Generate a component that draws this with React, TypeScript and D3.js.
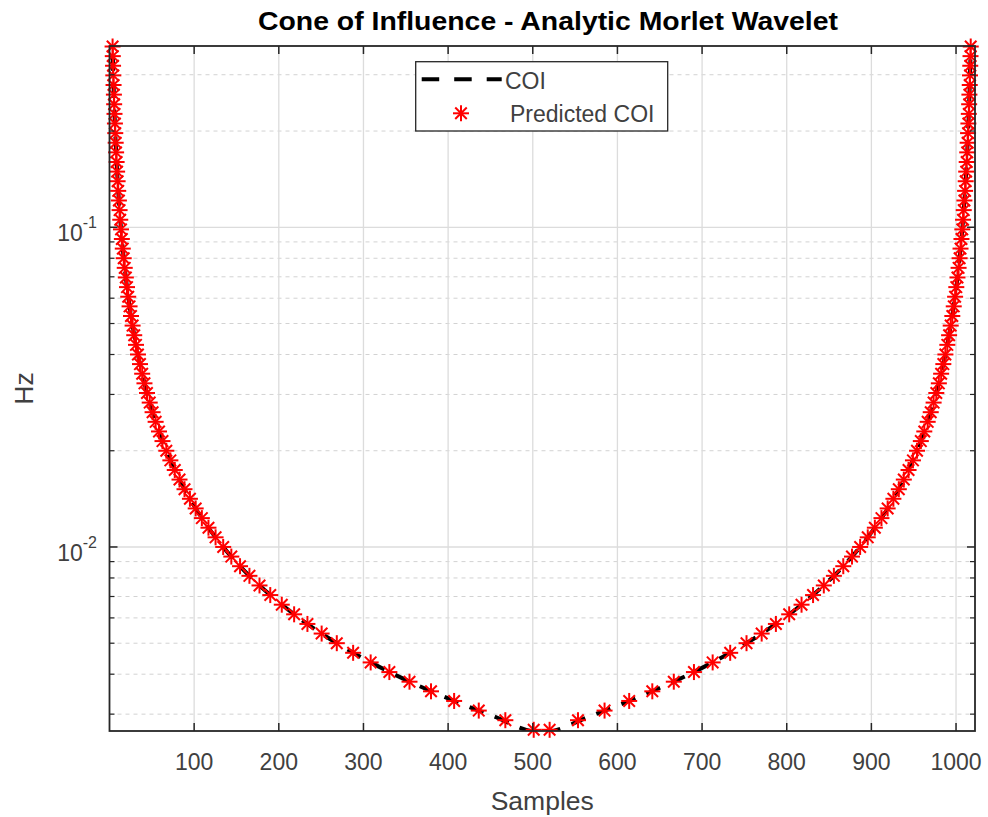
import React, { useLayoutEffect } from 'react';
import * as d3 from 'd3';

// ---------- data ----------
const xTicks = [100, 200, 300, 400, 500, 600, 700, 800, 900, 1000];
const yMajorTicks = [0.01, 0.1];
const yMajorLabels = ['-2', '-1'];
const yMinorTicks = [0.003, 0.004, 0.005, 0.006, 0.007, 0.008, 0.009,
  0.02, 0.03, 0.04, 0.05, 0.06, 0.07, 0.08, 0.09, 0.2, 0.3];

// COI line (sample, Hz)
const coiSamples = [1, 2, 3, 4, 5, 6, 8, 10, 12, 15, 20, 25, 30, 40, 50, 60, 80, 100, 125, 150, 200, 250, 300, 350, 400, 450, 510,
  511, 571, 621, 671, 721, 771, 821, 871, 896, 921, 941, 961, 971, 981, 991, 996, 1001, 1006, 1009, 1011, 1013, 1015, 1016, 1017, 1018, 1019, 1020];
const coiHz = [1.343, 0.6715, 0.4477, 0.3358, 0.2686, 0.2238, 0.1679, 0.1343, 0.1119, 0.0895, 0.0672, 0.0537, 0.0448, 0.0336, 0.0269, 0.0224, 0.0168, 0.01343, 0.01074, 0.00895, 0.00672, 0.00537, 0.00448, 0.00384, 0.00336, 0.00298, 0.00263,
  0.00263, 0.00298, 0.00336, 0.00384, 0.00448, 0.00537, 0.00672, 0.00895, 0.01074, 0.01343, 0.0168, 0.0224, 0.0269, 0.0336, 0.0448, 0.0537, 0.0672, 0.0895, 0.1119, 0.1343, 0.1679, 0.2238, 0.2686, 0.3358, 0.4477, 0.6715, 1.343];

// Predicted COI markers: frequency, left-edge sample, right-edge sample
const predHz = [
  0.002680, 0.002872, 0.003078, 0.003299, 0.003536, 0.003790, 0.004062, 0.004354, 0.004666, 0.005001,
  0.005360, 0.005745, 0.006157, 0.006599, 0.007073, 0.007580, 0.008124, 0.008707, 0.009332, 0.010002,
  0.01072, 0.01149, 0.01231, 0.01320, 0.01415, 0.01516, 0.01625, 0.01741, 0.01866, 0.02000,
  0.02144, 0.02298, 0.02463, 0.02640, 0.02829, 0.03032, 0.03250, 0.03483, 0.03733, 0.04001,
  0.04288, 0.04596, 0.04926, 0.05279, 0.05658, 0.06064, 0.06499, 0.06966, 0.07466, 0.08002,
  0.08576, 0.09192, 0.09851, 0.10558, 0.11316, 0.12128, 0.12999, 0.13932, 0.14932, 0.16003,
  0.17152, 0.18383, 0.19703, 0.21117, 0.22632, 0.24257, 0.25998, 0.27864, 0.29864, 0.32007,
  0.34304, 0.36766];
const predLeft = [
  501.1, 467.6, 436.2, 407.1, 379.8, 354.4, 330.6, 308.5, 287.8, 268.5,
  250.6, 233.8, 218.1, 203.5, 189.9, 177.2, 165.3, 154.2, 143.9, 134.3,
  125.3, 116.9, 109.1, 101.8, 95.0, 88.6, 82.7, 77.1, 71.9, 67.1,
  62.6, 58.5, 54.5, 50.9, 47.5, 44.3, 41.3, 38.6, 36.0, 33.6,
  31.3, 29.2, 27.3, 25.4, 23.7, 22.1, 20.7, 19.3, 18.0, 16.8,
  15.7, 14.6, 13.6, 12.7, 11.9, 11.1, 10.3, 9.6, 9.0, 8.4,
  7.8, 7.3, 6.8, 6.4, 5.9, 5.5, 5.2, 4.8, 4.5, 4.2,
  3.9, 3.65];
const predRight = [
  519.9, 553.4, 584.8, 613.9, 641.2, 666.6, 690.4, 712.5, 733.2, 752.5,
  770.4, 787.2, 802.9, 817.5, 831.1, 843.8, 855.7, 866.8, 877.1, 886.7,
  895.7, 904.1, 911.9, 919.2, 926.0, 932.4, 938.3, 943.9, 949.1, 953.9,
  958.4, 962.5, 966.5, 970.1, 973.5, 976.7, 979.7, 982.4, 985.0, 987.4,
  989.7, 991.8, 993.7, 995.6, 997.3, 998.9, 1000.3, 1001.7, 1003.0, 1004.2,
  1005.3, 1006.4, 1007.4, 1008.3, 1009.1, 1009.9, 1010.7, 1011.4, 1012.0, 1012.6,
  1013.2, 1013.7, 1014.2, 1014.6, 1015.1, 1015.5, 1015.8, 1016.2, 1016.5, 1016.8,
  1017.1, 1017.35];

const xDomain = [0, 1022.4];
const yDomain = [0.002657, 0.369];

// ---------- layout ----------
const W = 988, H = 817;
const L = 109.5, R = 975, T = 46, B = 731;
const FONT = "'Liberation Sans', Arial, Helvetica, sans-serif";
const AX = '#262626';
const TXT = '#404040';

function Star({ x, y, r }: { x: number; y: number; r: number }) {
  const d = r * 0.72;
  return (
    <g stroke="#ff0000" strokeWidth={2} strokeLinecap="butt">
      <line x1={x - r} y1={y} x2={x + r} y2={y} />
      <line x1={x} y1={y - r} x2={x} y2={y + r} />
      <line x1={x - d} y1={y - d} x2={x + d} y2={y + d} />
      <line x1={x - d} y1={y + d} x2={x + d} y2={y - d} />
    </g>
  );
}

export default function App() {
  useLayoutEffect(() => {
    document.body.style.margin = '0';
  }, []);

  const x = d3.scaleLinear().domain(xDomain).range([L, R]);
  const y = d3.scaleLog().domain(yDomain).range([B, T]);

  const linePts = coiSamples.map((s, i) => [s, coiHz[i]] as [number, number]);
  const lineGen = d3.line<[number, number]>()
    .x(d => x(d[0]))
    .y(d => y(d[1]))
    .curve(d3.curveMonotoneX);

  const markers = [
    ...predHz.map((f, i) => ({ s: predLeft[i], f })),
    ...predHz.map((f, i) => ({ s: predRight[i], f })),
  ];

  const tickLen = 8;
  const minorLen = 5;

  return (
    <svg width={W} height={H} style={{ position: 'absolute', left: 0, top: 0, background: '#fff' }}
      fontFamily={FONT}>
      <rect x={0} y={0} width={W} height={H} fill="#ffffff" />
      <defs>
        <clipPath id="plotClip">
          <rect x={L} y={T} width={R - L} height={B - T} />
        </clipPath>
      </defs>

      {/* minor y grid */}
      {yMinorTicks.map(t => (
        <line key={'mg' + t} x1={L} x2={R} y1={y(t)} y2={y(t)}
          stroke="#d2d2d2" strokeWidth={1} strokeDasharray="4 4" />
      ))}
      {/* major grid */}
      {yMajorTicks.map(t => (
        <line key={'Mg' + t} x1={L} x2={R} y1={y(t)} y2={y(t)}
          stroke="#dcdcdc" strokeWidth={1.3} />
      ))}
      {xTicks.map(t => (
        <line key={'xg' + t} x1={x(t)} x2={x(t)} y1={T} y2={B}
          stroke="#dcdcdc" strokeWidth={1.3} />
      ))}

      {/* COI line */}
      <path d={lineGen(linePts) || ''} fill="none" stroke="#000" strokeWidth={4}
        strokeDasharray="15 12" clipPath="url(#plotClip)" />

      {/* Predicted markers */}
      {markers.map((m, i) => (
        <Star key={'m' + i} x={x(m.s)} y={y(m.f)} r={8} />
      ))}

      {/* box */}
      <rect x={L} y={T} width={R - L} height={B - T} fill="none" stroke={AX} strokeWidth={1.8} />

      {/* x ticks */}
      {xTicks.map(t => (
        <g key={'xt' + t}>
          <line x1={x(t)} x2={x(t)} y1={B} y2={B - tickLen} stroke={AX} strokeWidth={1.5} />
          <line x1={x(t)} x2={x(t)} y1={T} y2={T + tickLen} stroke={AX} strokeWidth={1.5} />
          <text x={x(t)} y={770} textAnchor="middle" fontSize={23} fill={TXT}>{t}</text>
        </g>
      ))}

      {/* y ticks */}
      {yMajorTicks.map((t, i) => (
        <g key={'yt' + t}>
          <line x1={L} x2={L + tickLen} y1={y(t)} y2={y(t)} stroke={AX} strokeWidth={1.5} />
          <line x1={R} x2={R - tickLen} y1={y(t)} y2={y(t)} stroke={AX} strokeWidth={1.5} />
          <text x={97} y={y(t) + 14} textAnchor="end" fill={TXT} fontSize={23}>
            <tspan>10</tspan>
            <tspan dy={-13} fontSize={16}>{yMajorLabels[i]}</tspan>
          </text>
        </g>
      ))}
      {yMinorTicks.map(t => (
        <g key={'ym' + t}>
          <line x1={L} x2={L + minorLen} y1={y(t)} y2={y(t)} stroke={AX} strokeWidth={1.2} />
          <line x1={R} x2={R - minorLen} y1={y(t)} y2={y(t)} stroke={AX} strokeWidth={1.2} />
        </g>
      ))}

      {/* axis labels */}
      <text x={(L + R) / 2} y={810} textAnchor="middle" fontSize={26.5} fill={TXT}>Samples</text>
      <text transform={`translate(33, ${(T + B) / 2}) rotate(-90)`} textAnchor="middle" fontSize={26.5} fill={TXT}>Hz</text>

      {/* title */}
      <text x={548} y={30} textAnchor="middle" fontSize={26} fontWeight="bold" fill="#000"
        textLength={580} lengthAdjust="spacingAndGlyphs">Cone of Influence - Analytic Morlet Wavelet</text>

      {/* legend */}
      <g>
        <rect x={415.7} y={61.7} width={252} height={69.3} fill="#fff" stroke={AX} strokeWidth={1.3} />
        <line x1={421.7} x2={501.7} y1={79.3} y2={79.3} stroke="#000" strokeWidth={4} strokeDasharray="17.5 15" />
        <text x={505} y={89} fontSize={23} fill={TXT}>COI</text>
        <Star x={461} y={113.3} r={8} />
        <text x={510} y={121.7} fontSize={23} fill={TXT}>Predicted COI</text>
      </g>
    </svg>
  );
}
